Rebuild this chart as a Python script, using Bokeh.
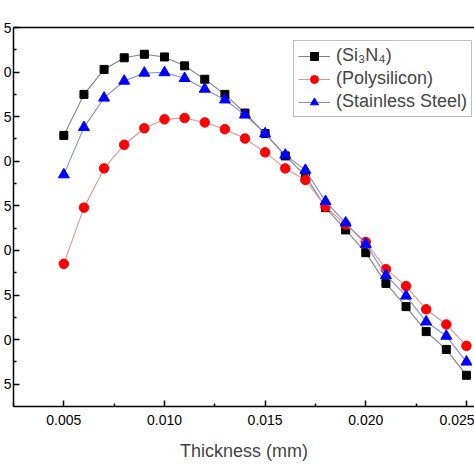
from bokeh.plotting import figure
from bokeh.models import Range1d, Legend, LegendItem, LinearAxis, FixedTicker
from bokeh.embed import file_html
from bokeh.resources import INLINE

thickness = [0.005, 0.006, 0.007, 0.008, 0.009, 0.010, 0.011, 0.012, 0.013, 0.014, 0.015,
             0.016, 0.017, 0.018, 0.019, 0.020, 0.021, 0.022, 0.023, 0.024, 0.025]
si3n4 = [32.9, 37.5, 40.3, 41.6, 42.0, 41.7, 40.7, 39.2, 37.5, 35.4, 33.1,
         30.6, 28.4, 24.8, 22.3, 19.75, 16.3, 13.7, 10.9, 8.9, 6.0]
polysilicon = [18.5, 24.8, 29.2, 31.85, 33.7, 34.7, 34.85, 34.35, 33.6, 32.55, 31.0,
               29.2, 27.9, 24.9, 22.9, 20.95, 17.9, 16.0, 13.4, 11.7, 9.3]
steel = [28.5, 33.8, 37.1, 39.0, 39.9, 39.95, 39.3, 38.1, 36.9, 35.2, 33.1,
         30.7, 29.0, 25.5, 23.1, 20.7, 17.2, 14.9, 12.0, 10.4, 7.5]
y_ticks = [5, 10, 15, 20, 25, 30, 35, 40, 45]
y_tick_labels = ["5", "0", "5", "0", "5", "0", "5", "0", "5"]  # visible (cropped) label text
x_ticks = [0.005, 0.010, 0.015, 0.020, 0.025]
x_tick_labels = ["0.005", "0.010", "0.015", "0.020", "0.025"]

FONT = "Liberation Sans"

p = figure(width=474, height=474, output_backend="svg", toolbar_location=None,
           x_range=Range1d(0.0025, 0.0254), y_range=Range1d(2.5, 45),
           min_border_left=0, min_border_right=0, min_border_top=27, min_border_bottom=68)
p.outline_line_color = None
p.xgrid.visible = False
p.ygrid.visible = False
p.background_fill_color = "white"
p.border_fill_color = "white"

# series
r1l = p.line(thickness, si3n4, line_color="#808080", line_width=1.1)
r1m = p.scatter(thickness, si3n4, marker="square", size=8, fill_color="black", line_color="black")
r2l = p.line(thickness, polysilicon, line_color="#e89090", line_width=1.1)
r2m = p.scatter(thickness, polysilicon, marker="circle", size=9.5, fill_color="#ff0000", line_color="#ff0000")
r3l = p.line(thickness, steel, line_color="#8888d0", line_width=1.1)
r3m = p.scatter(thickness, steel, marker="triangle", size=11, fill_color="#0000ff", line_color="#0000ff")

# axes
for ax in (p.xaxis[0], p.yaxis[0]):
    ax.axis_line_width = 1.5
    ax.major_tick_line_width = 1.5
    ax.minor_tick_line_width = 1.5
    ax.major_tick_in = 6
    ax.major_tick_out = 0
    ax.minor_tick_in = 3
    ax.minor_tick_out = 0
    ax.major_label_text_font = FONT
    ax.major_label_text_font_size = "14px"
    ax.major_label_text_color = "black"

p.xaxis.ticker = FixedTicker(ticks=x_ticks, minor_ticks=[0.0025, 0.0075, 0.0125, 0.0175, 0.0225])
p.xaxis.major_label_overrides = {t: l for t, l in zip(x_ticks, x_tick_labels)}
p.xaxis.axis_label = "Thickness (mm)"
p.xaxis.axis_label_text_font = FONT
p.xaxis.axis_label_text_font_size = "18px"
p.xaxis.axis_label_text_font_style = "normal"
p.xaxis.axis_label_standoff = 13
p.xaxis.major_label_standoff = 8

p.yaxis.ticker = FixedTicker(ticks=y_ticks, minor_ticks=[7.5, 12.5, 17.5, 22.5, 27.5, 32.5, 37.5, 42.5])
p.yaxis.major_label_overrides = {t: l for t, l in zip(y_ticks, y_tick_labels)}
p.yaxis.major_label_standoff = 2

top = LinearAxis(ticker=FixedTicker(ticks=[], minor_ticks=[]),
                 major_tick_line_color=None, minor_tick_line_color=None,
                 axis_line_width=1.5)
p.add_layout(top, "above")

legend = Legend(items=[
    LegendItem(label="(Si\u2083N\u2084)", renderers=[r1l, r1m]),
    LegendItem(label="(Polysilicon)", renderers=[r2l, r2m]),
    LegendItem(label="(Stainless Steel)", renderers=[r3l, r3m]),
], location=(280, 289))
legend.label_text_font = FONT
legend.label_text_font_size = "18px"
legend.border_line_color = "#808080"
legend.border_line_width = 1
legend.glyph_width = 32
legend.glyph_height = 20
legend.label_height = 20
legend.spacing = 2
legend.padding = 4
legend.margin = 0
legend.label_standoff = 6
legend.background_fill_alpha = 1.0
p.add_layout(legend, "center")

open("out.html", "w").write(file_html(p, INLINE))
